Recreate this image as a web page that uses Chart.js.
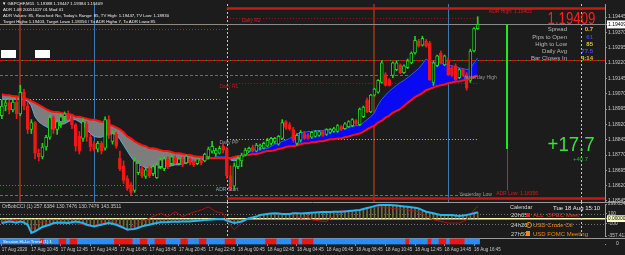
<!DOCTYPE html>
<html>
<head>
<meta charset="utf-8">
<script src="https://cdn.jsdelivr.net/npm/chart.js@4.4.1/dist/chart.umd.min.js"></script>
<style>
  html, body { margin: 0; padding: 0; }
  body { width: 625px; height: 255px; overflow: hidden; position: relative; background: #1c1c1c;
         font-family: 'Liberation Sans', Arial, sans-serif; }
  canvas { position: absolute; left: 0; }
  .txt { position: absolute; white-space: nowrap; line-height: 1; }
  .info { left: 3px; font-size: 4.3px; color: #f0f0f0; }
  .lbl { right: 58px; font-size: 6px; color: #b8b8b8; text-align: right; }
  .val { right: 32px; font-size: 6px; font-weight: bold; text-align: right; }
  .cal { font-size: 6px; }
  .box { position: absolute; background: #fff; }
</style>
</head>
<body>
<canvas id="priceChart" width="625" height="206" style="top:0px"></canvas>
<canvas id="cciChart" width="625" height="40" style="top:200px"></canvas>
<canvas id="trendChart" width="625" height="17" style="top:238px"></canvas>

<!-- header info -->
<div class="txt info" style="top:1.8px;left:2px">▼ GBPCHF,M15&nbsp; 1.19388 1.19447 1.19384 1.19409</div>
<div class="txt info" style="top:8px">ADR 1.08 20051027 01 Mod 01</div>
<div class="txt info" style="top:13.8px">ADR Values: 85, Reached: No, Today's Range: 85, TV High: 1.19447, TV Low: 1.18930</div>
<div class="txt info" style="top:20px">Target High= 1.19403, Target Low= 1.18356 / To ADR High= 7, To ADR Low= 85</div>
<div class="box" style="left:1px;top:50px;width:15px;height:8px"></div>
<div class="box" style="left:35px;top:50px;width:15px;height:8px"></div>

<!-- price panel on the right -->
<div class="txt" style="right:30px;top:10px;font-size:17px;color:#ff1e1e;transform:scaleX(0.78);transform-origin:right top">1.19409</div>
<div class="txt lbl" style="top:26px">Spread</div>
<div class="txt lbl" style="top:33.5px">Pips to Open</div>
<div class="txt lbl" style="top:40.5px">High to Low</div>
<div class="txt lbl" style="top:47.7px">Daily Avg</div>
<div class="txt lbl" style="top:55px">Bar Closes In</div>
<div class="txt val" style="top:26px;color:#e6c619">0.7</div>
<div class="txt val" style="top:33.5px;color:#3040ff">61</div>
<div class="txt val" style="top:40.5px;color:#e6c619">85</div>
<div class="txt val" style="top:47.7px;color:#3a50ff">77.5</div>
<div class="txt val" style="top:55px;color:#e8c020">4:14</div>
<div class="txt" style="right:30px;top:134px;font-size:20px;color:#3fdf3f;transform:scaleX(0.93);transform-origin:right top">+17.7</div>
<div class="txt" style="left:573px;top:155.5px;font-size:6px;color:#2fae2f">+40.7</div>

<!-- indicator captions -->
<div class="txt" style="left:2px;top:203.5px;font-size:5px;color:#c8c8c8">OrBobCCI (1) 257.6384 130.7476 130.7476 143.3511</div>
<div class="txt" style="left:3px;top:240px;font-size:4.3px;color:#ffffff">Session Hi-Lo Trend (1) 1</div>

<!-- calendar -->
<div class="txt cal" style="left:510px;top:205px;color:#d8d8d8;font-size:5.5px">Calendar</div>
<div class="txt cal" style="left:553px;top:205px;color:#e8e8e8">Tue 18 Aug 15:10</div>
<div class="txt cal" style="left:511px;top:212px;color:#cfcfcf">20h05</div>
<div class="box" style="left:526px;top:212.5px;width:4px;height:4px;background:#e02020"></div>
<div class="txt cal" style="left:533px;top:212px;color:#ff2a2a">ALL&nbsp; OPEC Meet</div>
<div class="txt cal" style="left:511px;top:221.5px;color:#cfcfcf">24h20</div>
<div class="txt" style="left:525.5px;top:221.5px;width:4px;height:4px;border:0.8px solid #f08a1c;border-radius:50%;font-size:4px;color:#f08a1c;text-align:center">!</div>
<div class="txt cal" style="left:533px;top:221.5px;color:#f08a1c">USD Crude Oil</div>
<div class="txt cal" style="left:511px;top:230.5px;color:#cfcfcf">27h50</div>
<div class="box" style="left:526px;top:231px;width:4px;height:4.5px;background:#f08a1c"></div>
<div class="txt cal" style="left:533px;top:230.5px;color:#f08a1c">USD FOMC Meeting</div>

<script>
// ---- data: GBPCHF M15, 17 Aug 08:45 .. 18 Aug 17:00 (130 bars) ----
const openP = [
  1.18962,1.19010,1.19025,1.18991,1.19029,1.18971,1.19077,1.19010,1.18895,1.18929,
  1.18779,1.18761,1.18809,1.18857,1.18953,1.18895,1.18933,1.18957,1.18971,1.18948,
  1.18919,1.18861,1.18851,1.18923,1.18857,1.18823,1.18799,1.18827,1.18803,1.18943,
  1.18837,1.18871,1.18755,1.18717,1.18655,1.18621,1.18597,1.18683,1.18703,1.18665,
  1.18703,1.18679,1.18659,1.18713,1.18703,1.18751,1.18727,1.18755,1.18727,1.18751,
  1.18731,1.18751,1.18741,1.18727,1.18746,1.18741,1.18761,1.18789,1.18775,1.18779,
  1.18813,1.18799,1.18669,1.18617,1.18713,1.18741,1.18770,1.18789,1.18809,1.18789,
  1.18809,1.18803,1.18813,1.18827,1.18837,1.18823,1.18851,1.18933,1.18919,1.18895,
  1.18827,1.18842,1.18875,1.18866,1.18857,1.18861,1.18866,1.18885,1.18871,1.18881,
  1.18885,1.18885,1.18909,1.18899,1.18909,1.18914,1.18938,1.18919,1.18957,1.19039,
  1.18981,1.19063,1.19077,1.19125,1.19163,1.19139,1.19159,1.19188,1.19211,1.19173,
  1.19197,1.19221,1.19269,1.19327,1.19307,1.19327,1.19317,1.19125,1.19207,1.19269,
  1.19211,1.19235,1.19197,1.19207,1.19149,1.19188,1.19163,1.19135,1.19279,1.19388];
const highP = [
  1.19039,1.19043,1.19039,1.19039,1.19053,1.19111,1.19093,1.19029,1.18943,1.18933,
  1.18799,1.18827,1.18866,1.18967,1.18962,1.18943,1.18971,1.18981,1.18986,1.18967,
  1.18923,1.18885,1.18948,1.18933,1.18871,1.18837,1.18837,1.18837,1.18957,1.18962,
  1.18885,1.18881,1.18789,1.18741,1.18669,1.18635,1.18755,1.18741,1.18717,1.18707,
  1.18713,1.18722,1.18731,1.18755,1.18761,1.18761,1.18770,1.18765,1.18755,1.18761,
  1.18770,1.18755,1.18746,1.18755,1.18751,1.18779,1.18809,1.18837,1.18803,1.18813,
  1.18823,1.18809,1.18717,1.18731,1.18761,1.18779,1.18803,1.18809,1.18818,1.18827,
  1.18823,1.18833,1.18851,1.18857,1.18857,1.18866,1.18943,1.18938,1.18929,1.18905,
  1.18875,1.18890,1.18885,1.18875,1.18885,1.18890,1.18890,1.18890,1.18899,1.18899,
  1.18905,1.18919,1.18914,1.18929,1.18938,1.18948,1.18943,1.19000,1.19010,1.19049,
  1.19067,1.19097,1.19139,1.19231,1.19173,1.19144,1.19226,1.19231,1.19216,1.19211,
  1.19240,1.19274,1.19351,1.19336,1.19351,1.19336,1.19327,1.19231,1.19259,1.19279,
  1.19259,1.19245,1.19207,1.19216,1.19193,1.19193,1.19173,1.19288,1.19394,1.19447];
const lowP = [
  1.18948,1.18986,1.18971,1.18981,1.18948,1.18962,1.18991,1.18875,1.18875,1.18751,
  1.18741,1.18751,1.18794,1.18847,1.18875,1.18871,1.18905,1.18933,1.18943,1.18899,
  1.18789,1.18775,1.18837,1.18837,1.18789,1.18789,1.18785,1.18775,1.18794,1.18851,
  1.18823,1.18803,1.18693,1.18631,1.18597,1.18573,1.18587,1.18674,1.18659,1.18655,
  1.18659,1.18669,1.18655,1.18703,1.18693,1.18703,1.18722,1.18727,1.18722,1.18713,
  1.18727,1.18722,1.18713,1.18722,1.18722,1.18737,1.18751,1.18779,1.18765,1.18775,
  1.18779,1.18655,1.18597,1.18607,1.18703,1.18713,1.18765,1.18785,1.18785,1.18785,
  1.18794,1.18799,1.18809,1.18818,1.18827,1.18818,1.18847,1.18895,1.18890,1.18833,
  1.18818,1.18833,1.18847,1.18847,1.18851,1.18857,1.18861,1.18861,1.18866,1.18875,
  1.18881,1.18881,1.18890,1.18895,1.18905,1.18909,1.18919,1.18914,1.18953,1.18977,
  1.18977,1.19058,1.19073,1.19121,1.19107,1.19107,1.19149,1.19183,1.19169,1.19169,
  1.19193,1.19216,1.19264,1.19298,1.19303,1.19298,1.19135,1.19111,1.19202,1.19216,
  1.19207,1.19159,1.19154,1.19135,1.19144,1.19154,1.19087,1.19125,1.19274,1.19384];
const closeP = [
  1.19010,1.19025,1.18991,1.19029,1.18971,1.19077,1.19010,1.18895,1.18929,1.18779,
  1.18761,1.18809,1.18857,1.18953,1.18895,1.18933,1.18957,1.18971,1.18948,1.18919,
  1.18813,1.18789,1.18933,1.18857,1.18809,1.18799,1.18827,1.18789,1.18943,1.18866,
  1.18875,1.18813,1.18703,1.18645,1.18607,1.18587,1.18741,1.18731,1.18669,1.18698,
  1.18669,1.18713,1.18722,1.18746,1.18751,1.18713,1.18761,1.18731,1.18751,1.18722,
  1.18765,1.18731,1.18722,1.18751,1.18731,1.18775,1.18799,1.18813,1.18794,1.18803,
  1.18794,1.18669,1.18611,1.18717,1.18751,1.18770,1.18794,1.18803,1.18789,1.18818,
  1.18818,1.18827,1.18842,1.18851,1.18851,1.18861,1.18929,1.18905,1.18899,1.18842,
  1.18866,1.18881,1.18851,1.18851,1.18881,1.18885,1.18885,1.18866,1.18895,1.18895,
  1.18899,1.18914,1.18895,1.18923,1.18933,1.18943,1.18923,1.18995,1.19005,1.18981,
  1.19063,1.19093,1.19135,1.19221,1.19111,1.19111,1.19221,1.19221,1.19173,1.19207,
  1.19231,1.19269,1.19331,1.19303,1.19341,1.19303,1.19139,1.19221,1.19255,1.19221,
  1.19255,1.19163,1.19159,1.19139,1.19188,1.19159,1.19097,1.19279,1.19389,1.19409];

// slow (red) and fast (blue) moving averages
const slowMa = [
  1.19067,1.19063,1.19063,1.19058,1.19058,1.19053,1.19049,1.19043,1.19034,1.19025,
  1.19015,1.19005,1.18995,1.18986,1.18981,1.18981,1.18977,1.18971,1.18971,1.18967,
  1.18957,1.18957,1.18953,1.18948,1.18943,1.18943,1.18938,1.18933,1.18929,1.18919,
  1.18914,1.18905,1.18895,1.18881,1.18861,1.18851,1.18837,1.18827,1.18818,1.18813,
  1.18803,1.18803,1.18799,1.18794,1.18789,1.18789,1.18785,1.18779,1.18779,1.18775,
  1.18770,1.18770,1.18765,1.18761,1.18761,1.18761,1.18755,1.18755,1.18755,1.18755,
  1.18755,1.18755,1.18755,1.18761,1.18765,1.18765,1.18770,1.18770,1.18775,1.18775,
  1.18779,1.18785,1.18789,1.18789,1.18794,1.18799,1.18803,1.18809,1.18813,1.18813,
  1.18818,1.18823,1.18827,1.18827,1.18833,1.18833,1.18837,1.18837,1.18842,1.18847,
  1.18847,1.18851,1.18851,1.18857,1.18861,1.18866,1.18871,1.18875,1.18885,1.18895,
  1.18905,1.18914,1.18929,1.18938,1.18953,1.18962,1.18977,1.18986,1.18995,1.19010,
  1.19025,1.19039,1.19053,1.19063,1.19073,1.19087,1.19093,1.19101,1.19107,1.19111,
  1.19115,1.19121,1.19125,1.19130,1.19130,1.19135,1.19139,1.19144,1.19154,1.19159];
const fastMa = [
  1.19043,1.19043,1.19043,1.19043,1.19043,1.19043,1.19039,1.19034,1.19010,1.18957,
  1.18933,1.18919,1.18909,1.18899,1.18899,1.18909,1.18919,1.18923,1.18933,1.18943,
  1.18943,1.18933,1.18919,1.18895,1.18875,1.18861,1.18857,1.18857,1.18866,1.18871,
  1.18875,1.18866,1.18847,1.18818,1.18789,1.18761,1.18737,1.18722,1.18717,1.18707,
  1.18707,1.18707,1.18707,1.18707,1.18713,1.18713,1.18717,1.18722,1.18722,1.18727,
  1.18731,1.18737,1.18741,1.18741,1.18746,1.18751,1.18751,1.18755,1.18761,1.18761,
  1.18761,1.18761,1.18746,1.18741,1.18746,1.18755,1.18770,1.18785,1.18794,1.18799,
  1.18799,1.18803,1.18803,1.18813,1.18823,1.18827,1.18837,1.18842,1.18851,1.18861,
  1.18871,1.18881,1.18881,1.18885,1.18885,1.18890,1.18890,1.18890,1.18895,1.18895,
  1.18895,1.18895,1.18899,1.18899,1.18905,1.18909,1.18914,1.18914,1.18929,1.18943,
  1.18957,1.18977,1.19015,1.19043,1.19063,1.19082,1.19097,1.19111,1.19125,1.19135,
  1.19149,1.19163,1.19178,1.19193,1.19216,1.19240,1.19226,1.19221,1.19221,1.19221,
  1.19216,1.19211,1.19207,1.19202,1.19197,1.19193,1.19188,1.19193,1.19221,1.19245];

// CCI sub-window
const cciMain = [
  -90,-75,-58,-70,-84,-58,-80,-124,-290,-258,
  -215,-170,-145,-124,-90,-84,-78,-84,-90,-74,
  -58,-74,-90,-124,-140,-158,-140,-124,-105,-90,
  -105,-124,-155,-190,-224,-218,-210,-185,-158,-140,
  -124,-105,-90,-76,-72,-70,-66,-64,-62,-60,
  -59,-58,-50,-44,-38,-30,-24,-16,-10,-8,
  -10,-38,-65,-90,-75,-58,-25,10,26,42,
  76,86,96,104,110,103,96,96,96,110,
  108,105,110,115,120,125,130,135,137,138,
  140,141,142,148,155,162,170,176,196,216,
  236,256,276,280,282,280,276,268,259,250,
  242,232,221,210,176,142,126,109,92,76,
  76,76,76,66,56,66,76,93,110,130.7476];
const cciSignal = [
  -58,-50,-42,-35,-28,-24,-90,-160,-224,-160,
  -100,-58,-80,-100,-124,-90,-58,-70,-80,-90,
  -100,-112,-124,-140,-158,-135,-112,-90,-80,-68,
  -58,-90,-125,-158,-258,-190,-124,-90,-58,-24,
  10,44,76,110,76,42,92,142,92,42,
  76,110,132,154,176,210,242,192,142,126,
  110,-58,-140,-224,-157,-90,-40,10,26,42,
  76,93,110,101,93,85,76,83,90,96,
  53,10,26,42,-24,-35,-46,-52,-58,0,
  60,118,176,164,153,142,159,176,193,210,
  221,232,242,234,226,218,210,201,193,184,
  176,165,153,142,100,58,17,-24,-40,-57,
  -74,-90,-90,-90,-90,-57,-24,76,176,257.6384];

// trend strip: 1 = up (blue), -1 = down (red)
const trendState = [
  1,1,1,1,1,1,1,1,1,1,  1,-1,1,1,1,1,-1,-1,1,-1,
  -1,1,1,1,1,1,1,1,1,1,  1,-1,-1,-1,-1,-1,1,1,-1,-1,
  1,1,-1,-1,-1,1,1,1,1,-1,  -1,1,1,1,-1,-1,1,1,1,1,
  1,-1,-1,-1,1,1,1,1,1,1,  1,1,-1,-1,-1,1,1,1,1,-1,
  -1,1,-1,-1,-1,1,1,1,1,1,  1,1,1,1,1,1,1,1,1,1,
  1,1,1,1,1,1,1,1,1,1,  -1,1,1,1,1,1,-1,1,1,-1,
  -1,1,-1,-1,-1,-1,1,1,1,1];

// axis ticks
const priceTicks = [1.18545,1.18620,1.18695,1.18770,1.18845,1.18920,1.18995,1.19070,1.19145,1.19220,1.19295,1.19370,1.19445];
const cciTicks = [-357.4137, -100, 0, 100, 299.6343];
const cciTickLabels = ['-357.4137', '-100', '0.00000', '100', '299.6343'];
const timeLabels = ['17 Aug 2020','17 Aug 10:45','17 Aug 12:45','17 Aug 14:45','17 Aug 16:45','17 Aug 18:45',
  '17 Aug 20:45','17 Aug 22:45','18 Aug 00:45','18 Aug 02:45','18 Aug 04:45','18 Aug 06:45','18 Aug 08:45',
  '18 Aug 10:45','18 Aug 12:45','18 Aug 14:45','18 Aug 16:45'];
const timeLabelStep = 8;

// price levels (name, price, first bar, last bar; null = chart edge)
const levelNames  = ['adrHigh','dailyR2','bid','prevR2','order','yHigh','dailyR1','prevPP','dailyPP','prevS1','yLow','adrLow'];
const levelPrices = [1.19490, 1.19442, 1.19409, 1.19389, 1.19235, 1.19163, 1.19121, 1.19043, 1.18847, 1.18621, 1.18573, 1.18559];
const levelFrom   = [61, 61, null, null, null, null, 61, null, 61, null, null, 61];
const levelTo     = [null, 129, null, 61, null, 127, 129, 59, 129, 59, 127, null];

// session / day markers (bar index)
const londonOpenBars = [5, 101];
const newYorkOpenBars = [25, 121];
const dayStartBars = [61, 157];
const todayBar = 61;
const adrBarSlot = 137;

const N_SLOTS = 164; // visible bar slots incl. right shift
const slots = Array.from({length: N_SLOTS}, (_, i) => i);

// ---- styling ----
const FONT = "'Liberation Sans', Arial, sans-serif";
Chart.defaults.font.family = FONT;
Chart.defaults.color = '#c8c8c8';
Chart.defaults.plugins.legend.display = false;
Chart.defaults.plugins.tooltip.enabled = false;

const UP = '#22d422', DN = '#f01818';
const lastClose = closeP[closeP.length - 1];
const isUp = closeP.map((c, i) => c >= openP[i]);

const levelStyle = {
  adrHigh: {color: '#c41a1a', width: 2.5, dash: []},
  dailyR2: {color: '#a01414', width: 1, dash: [1, 2]},
  bid:     {color: '#8a8a8a', width: 1, dash: []},
  prevR2:  {color: '#d21414', width: 1, dash: [1, 2]},
  order:   {color: '#d21414', width: 1, dash: [5, 3], alt: '#22b022'},
  yHigh:   {color: '#6c6c6c', width: 1, dash: [3, 2]},
  dailyR1: {color: '#a01414', width: 1, dash: [1, 2]},
  prevPP:  {color: '#d0d000', width: 1, dash: [1, 2]},
  dailyPP: {color: '#d0d000', width: 1, dash: [1, 2]},
  prevS1:  {color: '#2e9a2e', width: 1, dash: [1, 2]},
  yLow:    {color: '#6c6c6c', width: 1, dash: [3, 2]},
  adrLow:  {color: '#c41a1a', width: 2.5, dash: []}
};

const levelAnnotations = [
  {text: 'ADR High: 1.19403', level: 'adrHigh', bar: 132, dy: 3.5, color: '#d41e1e'},
  {text: 'Daily R2', level: 'dailyR2', bar: 65, dy: 3, color: '#d41e1e'},
  {text: 'Daily R1', level: 'dailyR1', bar: 59, dy: 3, color: '#b41c1c'},
  {text: 'Daily PP', level: 'dailyPP', bar: 59, dy: 3, color: '#9a9a9a'},
  {text: 'ADR Start', level: 'prevS1', bar: 58, dy: 4, color: '#8ab0b8'},
  {text: 'Yesterday High', level: 'yHigh', bar: 125, dy: 3, color: '#9a9a9a'},
  {text: 'Yesterday Low', level: 'yLow', bar: 124, dy: -1, color: '#9a9a9a'},
  {text: 'ADR Low: 1.18356', level: 'adrLow', bar: 134, dy: -4, color: '#d41e1e'}
];

function crisp(v, w) { return w % 2 === 1 ? Math.round(v) + 0.5 : Math.round(v); }

function line(ctx, x0, y0, x1, y1, color, width, dash, offset) {
  ctx.beginPath();
  ctx.strokeStyle = color;
  ctx.lineWidth = width;
  ctx.setLineDash(dash || []);
  ctx.lineDashOffset = offset || 0;
  ctx.moveTo(x0, y0);
  ctx.lineTo(x1, y1);
  ctx.stroke();
}

// vertical session lines + day separators
const markerLines = {
  id: 'markerLines',
  beforeDatasetsDraw(chart, args, opts) {
    const {ctx, chartArea: a, scales: {x}} = chart;
    const top = opts.top ?? a.top, bottom = opts.bottom ?? a.bottom;
    ctx.save();
    if (opts.sessions) {
      londonOpenBars.forEach(b => {
        const px = crisp(x.getPixelForValue(b), 2);
        line(ctx, px, top, px, bottom, '#7c2e1c', 2);
      });
      newYorkOpenBars.forEach(b => {
        const px = crisp(x.getPixelForValue(b), 1);
        line(ctx, px, top, px, bottom, '#3b78b4', 1);
      });
    }
    dayStartBars.forEach(b => {
      const px = crisp(x.getPixelForValue(b), 1);
      line(ctx, px, top, px, bottom, '#c8c8c8', 1, [2, 2]);
    });
    ctx.restore();
  }
};

const levelLines = {
  id: 'levelLines',
  beforeDatasetsDraw(chart) {
    const {ctx, chartArea: a, scales: {x, y}} = chart;
    ctx.save();
    levelNames.forEach((name, i) => {
      const st = levelStyle[name];
      const py = crisp(y.getPixelForValue(levelPrices[i]), Math.round(st.width));
      const x0 = levelFrom[i] == null ? a.left : x.getPixelForValue(levelFrom[i]);
      const x1 = levelTo[i] == null ? a.right : x.getPixelForValue(levelTo[i]);
      line(ctx, x0, py, x1, py, st.color, st.width, st.dash);
      if (st.alt) line(ctx, x0, py, x1, py, st.alt, st.width, [2, 6], -5.5);
    });
    ctx.restore();
  },
  afterDatasetsDraw(chart) {
    const {ctx, scales: {x, y}} = chart;
    ctx.save();
    ctx.font = '5px ' + FONT;
    ctx.textBaseline = 'middle';
    ctx.textAlign = 'left';
    levelAnnotations.forEach(an => {
      const price = levelPrices[levelNames.indexOf(an.level)];
      ctx.fillStyle = an.color;
      ctx.fillText(an.text, x.getPixelForValue(an.bar), y.getPixelForValue(price) + an.dy);
    });
    // ADR range bar: last close -> today's open -> today's low
    const todayOpen = openP[todayBar];
    const todayLow = Math.min(...lowP.slice(todayBar));
    const px = x.getPixelForValue(adrBarSlot);
    line(ctx, crisp(px, 2), y.getPixelForValue(lastClose), crisp(px, 2), y.getPixelForValue(todayOpen), '#16f016', 2);
    line(ctx, crisp(px, 1), y.getPixelForValue(todayOpen), crisp(px, 1), y.getPixelForValue(todayLow), '#0c8c0c', 1);
    ctx.restore();
  }
};

const cciLevels = {
  id: 'cciLevels',
  beforeDatasetsDraw(chart) {
    const {ctx, chartArea: a, scales: {y}} = chart;
    ctx.save();
    [100, -100].forEach(v => {
      const py = crisp(y.getPixelForValue(v), 1);
      line(ctx, a.left, py, a.right, py, '#747474', 1, [1, 2]);
    });
    const pz = y.getPixelForValue(0);
    line(ctx, a.left, pz, a.right, pz, '#fff4b8', 1.5);
    // sub-window separators
    line(ctx, 0, 2.5, chart.width, 2.5, '#9a9a9a', 1);
    line(ctx, 0, 38.5, chart.width, 38.5, '#9a9a9a', 1);
    ctx.restore();
  }
};

const hiddenX = {type: 'category', offset: true, display: false};
const rightAxis = (extra) => Object.assign({
  position: 'right',
  afterFit: s => { s.width = 20; },
  grid: {display: true, drawOnChartArea: false, drawTicks: true, tickLength: 2, color: '#8c8c8c'},
  border: {display: true, color: '#9a9a9a'},
  ticks: {font: {size: 5}, color: '#c8c8c8', padding: 1, autoSkip: false}
}, extra);

// ---- main price chart ----
new Chart(document.getElementById('priceChart'), {
  data: {
    labels: slots,
    datasets: [
      {type: 'line', label: 'MA slow', data: slowMa, borderColor: '#ff1010', borderWidth: 2,
       pointRadius: 0, order: 4},
      {type: 'line', label: 'MA fast', data: fastMa, borderColor: '#56aee0', borderWidth: 1,
       pointRadius: 0, order: 5,
       fill: {target: 0, above: '#0a0af2', below: '#7d7d7d'},
       segment: {borderColor: c => fastMa[c.p0DataIndex] > slowMa[c.p0DataIndex] ? '#2a5cff' : '#56aee0'}},
      {type: 'bar', label: 'wick', data: lowP.map((l, i) => [l, highP[i]]),
       backgroundColor: isUp.map(u => u ? UP : DN), barThickness: 1, grouped: false, order: 2},
      {type: 'bar', label: 'body', data: openP.map((o, i) => [o, closeP[i]]),
       backgroundColor: isUp.map(u => u ? '#0a0a0a' : DN), borderColor: isUp.map(u => u ? UP : DN),
       borderWidth: 1, borderSkipped: false, barThickness: 3, minBarLength: 1, grouped: false, order: 1}
    ]
  },
  options: {
    responsive: false, animation: false, devicePixelRatio: 1,
    layout: {padding: {left: 0, right: 0, top: 0, bottom: 4}, autoPadding: false},
    scales: {
      x: hiddenX,
      y: rightAxis({
        min: 1.18540, max: 1.19509, bounds: 'data',
        afterBuildTicks: s => { s.ticks = priceTicks.concat([lastClose]).map(v => ({value: v})); },
        ticks: {
          font: {size: 5}, padding: 1, autoSkip: false,
          callback: v => v.toFixed(5),
          color: c => c.tick.value === lastClose ? '#000000' : '#c8c8c8',
          showLabelBackdrop: c => c.tick.value === lastClose,
          backdropColor: '#ffffff', backdropPadding: {x: 1, y: 1}
        }
      })
    },
    plugins: {markerLines: {sessions: true}}
  },
  plugins: [markerLines, levelLines]
});

// ---- CCI sub-window ----
new Chart(document.getElementById('cciChart'), {
  data: {
    labels: slots,
    datasets: [
      {type: 'line', data: cciMain, borderColor: '#22b6f2', borderWidth: 2, pointRadius: 0, order: 1},
      {type: 'line', data: cciSignal, borderColor: '#b31010', borderWidth: 1, pointRadius: 0, order: 2},
      {type: 'bar', data: cciMain, backgroundColor: '#6e6a3e', barThickness: 1, order: 3}
    ]
  },
  options: {
    responsive: false, animation: false, devicePixelRatio: 1,
    layout: {padding: {left: 0, right: 0, top: 4, bottom: 3}, autoPadding: false},
    scales: {
      x: hiddenX,
      y: rightAxis({
        min: -357.4137, max: 299.6343, bounds: 'data',
        afterBuildTicks: s => { s.ticks = cciTicks.map(v => ({value: v})); },
        ticks: {
          font: {size: 4.8}, padding: 1, autoSkip: false,
          callback: v => cciTickLabels[cciTicks.indexOf(v)],
          color: c => c.tick.value === 0 ? '#000000' : '#c8c8c8',
          showLabelBackdrop: c => c.tick.value === 0,
          backdropColor: '#ffffc8', backdropPadding: {x: 1, y: 0.5}
        }
      })
    },
    plugins: {markerLines: {sessions: false, top: 2, bottom: 38}}
  },
  plugins: [cciLevels, markerLines]
});

// ---- trend strip + time axis ----
new Chart(document.getElementById('trendChart'), {
  data: {
    labels: slots,
    datasets: [{
      type: 'bar',
      data: trendState.map(() => 1),
      backgroundColor: trendState.map(s => s > 0 ? '#2b8cf5' : '#f01414'),
      barPercentage: 1, categoryPercentage: 1, minBarLength: 5, clip: false
    }]
  },
  options: {
    responsive: false, animation: false, devicePixelRatio: 1,
    layout: {padding: {left: 0, right: 0, top: 1, bottom: 0}, autoPadding: false},
    scales: {
      x: {
        type: 'category', offset: true,
        afterFit: s => { s.height = 11; },
        grid: {display: true, drawOnChartArea: false, drawTicks: true, tickLength: 2, color: '#8c8c8c', offset: false},
        border: {display: false},
        ticks: {
          autoSkip: false, maxRotation: 0, minRotation: 0, align: 'start', padding: 1,
          font: {size: 4.5}, color: '#c8c8c8',
          callback: (v, i) => (i % timeLabelStep === 0 && i / timeLabelStep < timeLabels.length)
            ? timeLabels[i / timeLabelStep] : null
        }
      },
      y: rightAxis({
        type: 'linear', min: 0, max: 1, bounds: 'data', beginAtZero: true,
        afterBuildTicks: s => { s.ticks = [{value: 0}]; },
        grid: {display: false},
        ticks: {font: {size: 5}, color: '#c8c8c8', padding: 3, callback: v => String(v)}
      })
    }
  }
});
</script>
</body>
</html>
